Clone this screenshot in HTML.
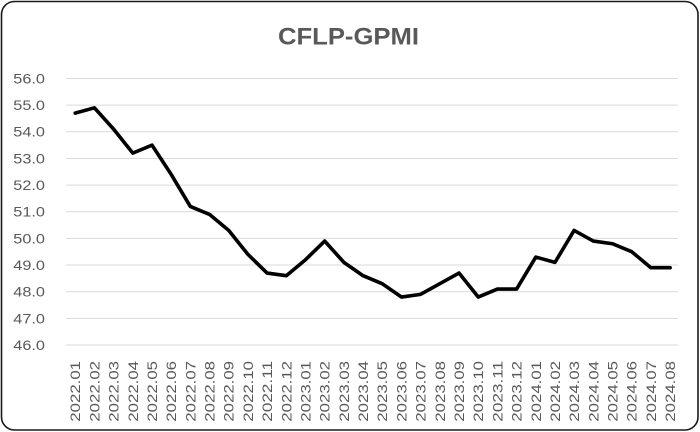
<!DOCTYPE html>
<html>
<head>
<meta charset="utf-8">
<style>
  html, body { margin: 0; padding: 0; background: #ffffff; }
  svg { display: block; }
  text { font-family: "Liberation Sans", Arial, sans-serif; fill: #595959; }
</style>
</head>
<body>
<svg width="700" height="432" viewBox="0 0 700 432" xmlns="http://www.w3.org/2000/svg">
  <rect x="0" y="0" width="700" height="432" fill="#ffffff"/>
  <rect x="1.5" y="1.5" width="696.5" height="428.5" rx="13" ry="13" fill="#ffffff" stroke="#1a1a1a" stroke-width="1.6"/>

  <text x="348.5" y="44.3" font-size="24.5" font-weight="bold" text-anchor="middle" textLength="141" lengthAdjust="spacingAndGlyphs">CFLP-GPMI</text>

  <g stroke="#d9d9d9" stroke-width="1">
    <line x1="66" y1="78.5" x2="678" y2="78.5"/>
    <line x1="66" y1="105.15" x2="678" y2="105.15"/>
    <line x1="66" y1="131.8" x2="678" y2="131.8"/>
    <line x1="66" y1="158.45" x2="678" y2="158.45"/>
    <line x1="66" y1="185.1" x2="678" y2="185.1"/>
    <line x1="66" y1="211.75" x2="678" y2="211.75"/>
    <line x1="66" y1="238.4" x2="678" y2="238.4"/>
    <line x1="66" y1="265.05" x2="678" y2="265.05"/>
    <line x1="66" y1="291.7" x2="678" y2="291.7"/>
    <line x1="66" y1="318.35" x2="678" y2="318.35"/>
    <line x1="66" y1="345" x2="678" y2="345"/>
  </g>

  <g font-size="14" text-anchor="end">
    <text x="45" y="83.4" textLength="31.7" lengthAdjust="spacingAndGlyphs">56.0</text>
    <text x="45" y="110.05" textLength="31.7" lengthAdjust="spacingAndGlyphs">55.0</text>
    <text x="45" y="136.7" textLength="31.7" lengthAdjust="spacingAndGlyphs">54.0</text>
    <text x="45" y="163.35" textLength="31.7" lengthAdjust="spacingAndGlyphs">53.0</text>
    <text x="45" y="190.0" textLength="31.7" lengthAdjust="spacingAndGlyphs">52.0</text>
    <text x="45" y="216.65" textLength="31.7" lengthAdjust="spacingAndGlyphs">51.0</text>
    <text x="45" y="243.3" textLength="31.7" lengthAdjust="spacingAndGlyphs">50.0</text>
    <text x="45" y="269.95" textLength="31.7" lengthAdjust="spacingAndGlyphs">49.0</text>
    <text x="45" y="296.6" textLength="31.7" lengthAdjust="spacingAndGlyphs">48.0</text>
    <text x="45" y="323.25" textLength="31.7" lengthAdjust="spacingAndGlyphs">47.0</text>
    <text x="45" y="349.9" textLength="31.7" lengthAdjust="spacingAndGlyphs">46.0</text>
  </g>

  <g font-size="13.6">
    <text transform="translate(80.2,421.7) rotate(-90)" textLength="60.7" lengthAdjust="spacingAndGlyphs">2022.01</text>
    <text transform="translate(99.4,421.7) rotate(-90)" textLength="60.7" lengthAdjust="spacingAndGlyphs">2022.02</text>
    <text transform="translate(118.6,421.7) rotate(-90)" textLength="60.7" lengthAdjust="spacingAndGlyphs">2022.03</text>
    <text transform="translate(137.8,421.7) rotate(-90)" textLength="60.7" lengthAdjust="spacingAndGlyphs">2022.04</text>
    <text transform="translate(157.0,421.7) rotate(-90)" textLength="60.7" lengthAdjust="spacingAndGlyphs">2022.05</text>
    <text transform="translate(176.2,421.7) rotate(-90)" textLength="60.7" lengthAdjust="spacingAndGlyphs">2022.06</text>
    <text transform="translate(195.3,421.7) rotate(-90)" textLength="60.7" lengthAdjust="spacingAndGlyphs">2022.07</text>
    <text transform="translate(214.5,421.7) rotate(-90)" textLength="60.7" lengthAdjust="spacingAndGlyphs">2022.08</text>
    <text transform="translate(233.7,421.7) rotate(-90)" textLength="60.7" lengthAdjust="spacingAndGlyphs">2022.09</text>
    <text transform="translate(252.9,421.7) rotate(-90)" textLength="60.7" lengthAdjust="spacingAndGlyphs">2022.10</text>
    <text transform="translate(272.1,421.7) rotate(-90)" textLength="60.7" lengthAdjust="spacingAndGlyphs">2022.11</text>
    <text transform="translate(291.3,421.7) rotate(-90)" textLength="60.7" lengthAdjust="spacingAndGlyphs">2022.12</text>
    <text transform="translate(310.5,421.7) rotate(-90)" textLength="60.7" lengthAdjust="spacingAndGlyphs">2023.01</text>
    <text transform="translate(329.7,421.7) rotate(-90)" textLength="60.7" lengthAdjust="spacingAndGlyphs">2023.02</text>
    <text transform="translate(348.9,421.7) rotate(-90)" textLength="60.7" lengthAdjust="spacingAndGlyphs">2023.03</text>
    <text transform="translate(368.1,421.7) rotate(-90)" textLength="60.7" lengthAdjust="spacingAndGlyphs">2023.04</text>
    <text transform="translate(387.2,421.7) rotate(-90)" textLength="60.7" lengthAdjust="spacingAndGlyphs">2023.05</text>
    <text transform="translate(406.4,421.7) rotate(-90)" textLength="60.7" lengthAdjust="spacingAndGlyphs">2023.06</text>
    <text transform="translate(425.6,421.7) rotate(-90)" textLength="60.7" lengthAdjust="spacingAndGlyphs">2023.07</text>
    <text transform="translate(444.8,421.7) rotate(-90)" textLength="60.7" lengthAdjust="spacingAndGlyphs">2023.08</text>
    <text transform="translate(464.0,421.7) rotate(-90)" textLength="60.7" lengthAdjust="spacingAndGlyphs">2023.09</text>
    <text transform="translate(483.2,421.7) rotate(-90)" textLength="60.7" lengthAdjust="spacingAndGlyphs">2023.10</text>
    <text transform="translate(502.4,421.7) rotate(-90)" textLength="60.7" lengthAdjust="spacingAndGlyphs">2023.11</text>
    <text transform="translate(521.6,421.7) rotate(-90)" textLength="60.7" lengthAdjust="spacingAndGlyphs">2023.12</text>
    <text transform="translate(540.8,421.7) rotate(-90)" textLength="60.7" lengthAdjust="spacingAndGlyphs">2024.01</text>
    <text transform="translate(560.0,421.7) rotate(-90)" textLength="60.7" lengthAdjust="spacingAndGlyphs">2024.02</text>
    <text transform="translate(579.1,421.7) rotate(-90)" textLength="60.7" lengthAdjust="spacingAndGlyphs">2024.03</text>
    <text transform="translate(598.3,421.7) rotate(-90)" textLength="60.7" lengthAdjust="spacingAndGlyphs">2024.04</text>
    <text transform="translate(617.5,421.7) rotate(-90)" textLength="60.7" lengthAdjust="spacingAndGlyphs">2024.05</text>
    <text transform="translate(636.7,421.7) rotate(-90)" textLength="60.7" lengthAdjust="spacingAndGlyphs">2024.06</text>
    <text transform="translate(655.9,421.7) rotate(-90)" textLength="60.7" lengthAdjust="spacingAndGlyphs">2024.07</text>
    <text transform="translate(675.1,421.7) rotate(-90)" textLength="60.7" lengthAdjust="spacingAndGlyphs">2024.08</text>
  </g>

  <polyline fill="none" stroke="#000000" stroke-width="3.6" stroke-linejoin="round" stroke-linecap="round"
    points="75.2,113.14 94.4,107.81 113.6,129.13 132.8,153.12 152.0,145.12 171.2,174.44 190.3,206.42 209.5,214.41 228.7,230.4 247.9,254.39 267.1,273.04 286.3,275.71 305.5,259.72 324.7,241.06 343.9,262.38 363.1,275.71 382.2,283.7 401.4,297.03 420.6,294.36 439.8,283.7 459.0,273.04 478.2,297.03 497.4,289.03 516.6,289.03 535.8,257.05 555.0,262.38 574.1,230.4 593.3,241.06 612.5,243.73 631.7,251.72 650.9,267.71 670.1,267.71"/>
</svg>
</body>
</html>
